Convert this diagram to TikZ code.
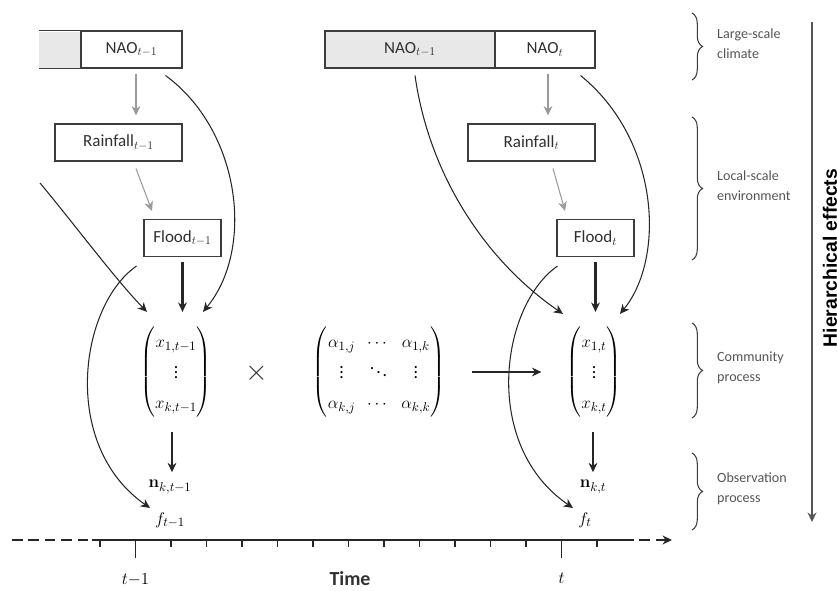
\documentclass[tikz,border=0pt]{standalone}
\usepackage{amsmath}
\usepackage[no-math]{fontspec}
\setmainfont{Carlito}
\newfontfamily\headfont{Liberation Sans}
\usetikzlibrary{arrows.meta,calc}
\usetikzlibrary{decorations.pathreplacing}
\definecolor{boxgrey}{HTML}{E8E8E8}
\definecolor{linegrey}{HTML}{3C3C3C}
\definecolor{textgrey}{HTML}{303030}
\definecolor{softgrey}{HTML}{9A9A9A}
\definecolor{labelgrey}{HTML}{555555}
\tikzstyle{box}=[draw=linegrey,line width=0.9pt,fill=white,text=textgrey,font=\fontsize{14.5}{17}\selectfont,minimum height=1.11cm,inner sep=0pt]
\tikzstyle{greybox}=[box,fill=boxgrey]
\tikzstyle{greyedge}=[draw=softgrey,line width=0.9pt,->]
\tikzstyle{edge}=[draw=black!85,line width=0.9pt,->]
\tikzstyle{heavyedge}=[draw=black!85,line width=1.8pt,->]
\tikzstyle{mathnode}=[inner sep=0pt,font=\fontsize{15}{18}\selectfont]
\tikzstyle{levelbrace}=[draw=linegrey,line width=0.9pt,decorate,decoration={brace,amplitude=9pt}]
\tikzstyle{level}=[anchor=west,align=left,inner sep=0pt,text=labelgrey,font=\fontsize{12}{17}\selectfont]
\tikzstyle{timeline}=[draw=black!85,line width=1.8pt]

\begin{document}
\begin{tikzpicture}[x=0.03cm,y=0.03cm,>={Stealth[length=8pt,width=7.5pt,inset=2.5pt]}]
    \useasboundingbox (0,0) rectangle (837,591);
    % boxes of both time steps
    \foreach \pos/\name/\bw/\lab in {{(131.5,541.5)/NAOa/3.03/NAO$_{t-1}$},{(545,541.5)/NAOb/3.0/NAO$_{t}$},
        {(118.5,448.5)/rainA/3.81/Rainfall$_{t-1}$},{(531.5,448.5)/rainB/3.81/Rainfall$_{t}$},
        {(182.5,353)/floodA/2.31/Flood$_{t-1}$},{(595.5,353)/floodB/2.31/Flood$_{t}$}}
        \node[box,minimum width=\bw cm] (\name) at \pos {\lab};
    \node[greybox,minimum width=5.1cm] (NAOprev) at (410,541.5) {NAO$_{t-1}$};
    % grey stub cut at the left edge
    \fill[boxgrey] (NAOa.south west) rectangle ++(-41,37);
    \draw[linegrey,line width=0.9pt] (NAOa.north west) -- ++(-41,0) (NAOa.south west) -- ++(-41,0);
    \draw[linegrey,line width=0.9pt] (NAOa.north west) -- (NAOa.south west);

    % community and observation nodes
    \renewcommand{\arraystretch}{1.45}
    \node[mathnode] (xA) at (176,219) {$\begin{pmatrix} x_{1,t-1}\\ \vdots\\ x_{k,t-1}\end{pmatrix}$};
    \node[mathnode] (xB) at (594,219) {$\begin{pmatrix} x_{1,t}\\ \vdots\\ x_{k,t}\end{pmatrix}$};
    \node[mathnode] (alpha) at (379,219) {$\begin{pmatrix} \alpha_{1,j} & \cdots & \alpha_{1,k}\\ \vdots & \ddots & \vdots\\ \alpha_{k,j} & \cdots & \alpha_{k,k}\end{pmatrix}$};
    \node[mathnode,font=\fontsize{26}{26}\selectfont,text=black!80] (times) at (257,218) {$\times$};
    \foreach \pos/\name/\lab in {{(170,104)/nA/$\mathbf{n}_{k,t-1}$},{(170,71)/fA/$f_{t-1}$},
        {(593,104)/nB/$\mathbf{n}_{k,t}$},{(585,71)/fB/$f_{t}$}}
        \node[mathnode] (\name) at \pos {\lab};

    % grey links inside the environment
    \foreach \source/\sx/\sy/\dest/\dx/\dy in {NAOa.south/4.5/-5/rainA.north/17.5/8, NAOb.south/3/-5/rainB.north/16.5/8,
        rainA.south/17.5/-7/floodA.north/-30.5/8, rainB.south/21.5/-7/floodB.north/-30.5/8}
        \path[greyedge] ($(\source)+(\sx,\sy)$) -- ($(\dest)+(\dx,\dy)$);

    % flood to community
    \path[heavyedge] ($(floodA.south)+(0,-5)$) -- ($(floodA.south |- xA.north)+(0,14)$);
    \path[heavyedge] ($(floodB.south)+(0,-5)$) -- ($(floodB.south |- xB.north)+(0,14)$);

    % curved effects
    \coordinate (inA) at (40,408);
    \path[edge] ($(NAOa.south east)+(-17,-7)$) .. controls +(75,-55) and +(52,63) .. ($(xA.north)+(27,14)$);
    \path[edge] (inA) .. controls +(35,-42) and +(-32,33) .. ($(xA.north)+(-29,14)$);
    \path[edge] ($(floodA.south west)+(-7,-9)$) .. controls +(-57,-40) and +(-90,63) .. ($(fA)+(-20,12)$);
    \path[edge] ($(NAOprev.south)+(5,-7)$) .. controls +(15,-105) and +(-73,50) .. ($(xB.north)+(-31,12)$);
    \path[edge] ($(NAOb.south east)+(-15,-7)$) .. controls +(80,-65) and +(45,55) .. ($(xB.north)+(26,12)$);
    \path[edge] ($(floodB.south west)+(1,-9)$) .. controls +(-57,-40) and +(-92,63) .. ($(fB)+(-12,12)$);

    % community to observation, and the step in time
    \path[edge] ($(xA.south)+(-4,-14)$) -- ($(nA.north)+(2,8)$);
    \path[edge] ($(xB.south)+(-1,-14)$) -- ($(nB.north)+(0,8)$);
    \path[edge] ($(alpha.east)+(27,0)$) -- ($(xB.west)+(-25,0)$);

    % time axis
    \coordinate (tlA) at (12,51);
    \coordinate (tlB) at (92,51);
    \coordinate (tlC) at (623,51);
    \coordinate (tlD) at (672,51);
    \path[timeline,dash pattern=on 9pt off 5pt] (tlA) -- (tlB);
    \path[timeline] (tlB) -- (tlC);
    \path[timeline,dash pattern=on 9pt off 5pt,->] (tlC) -- (tlD);
    \foreach \i in {0,2,3,...,12,14}
        \draw[timeline,line width=1.4pt] (100+35.5*\i,51) -- ++(0,-7);
    \draw[timeline,line width=1.4pt] (135.5,51) -- ++(0,-18) node[below=9pt,font=\fontsize{15}{18}\selectfont] (tprev) {$t{-}1$};
    \draw[timeline,line width=1.4pt] (561.5,51) -- ++(0,-18) node[below=9pt,font=\fontsize{15}{18}\selectfont] (tnow) {$t$};
    \node[font=\fontsize{17}{20}\selectfont\bfseries,text=textgrey,inner sep=1pt] (time) at (350,12) {Time};

    % levels of the hierarchy
    \foreach \top/\bot/\name/\lab in {578/511/large/{Large-scale\\climate}, 474/331/local/{Local-scale\\environment},
        268/173/comm/{Community\\process}, 138/61/obs/{Observation\\process}}
    {
        \draw[levelbrace] (692,\top) -- (692,\bot);
        \node[level] (\name) at (717,{(\top+\bot)/2+3}) {\lab};
    }
    \coordinate (hiTop) at (812,569);
    \coordinate (hiBot) at (812,69);
    \draw[draw=labelgrey,line width=2pt,->] (hiTop) -- (hiBot);
    \node[rotate=90,inner sep=0pt,text=black,font=\headfont\bfseries\fontsize{16.5}{20}\selectfont] (hier) at (830,333) {Hierarchical effects};
\end{tikzpicture}
\end{document}
